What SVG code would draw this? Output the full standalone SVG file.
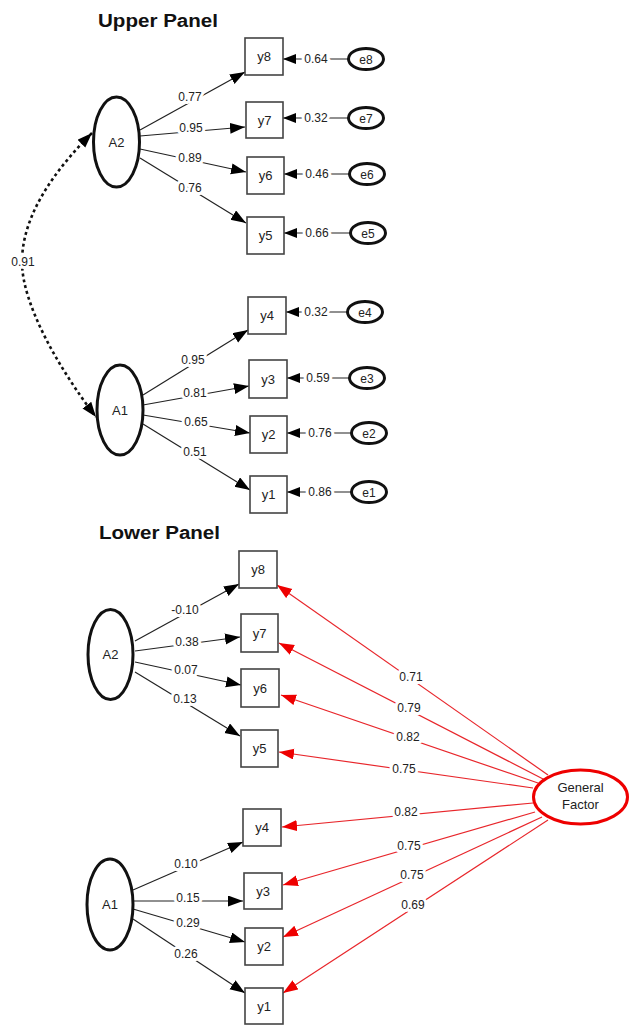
<svg xmlns="http://www.w3.org/2000/svg" width="629" height="1025" viewBox="0 0 629 1025">
  <style>
    text { font-family: "Liberation Sans", Arial, sans-serif; fill: #222; }
    .title { font-size: 18px; font-weight: bold; fill: #111; }
    .node { font-size: 13px; text-anchor: middle; }
    .lbl { font-size: 12px; text-anchor: middle; stroke: #fff; stroke-width: 6px; paint-order: stroke fill; stroke-linejoin: round; }
    .box { fill: #fff; stroke: #444; stroke-width: 1.6; }
    .lat { fill: #fff; stroke: #111; stroke-width: 3; }
    .err { fill: #fff; stroke: #111; stroke-width: 3; }
    .gf { fill: #fff; stroke: #e00; stroke-width: 3; }
    .path { stroke: #222; stroke-width: 1.2; fill: none; marker-end: url(#arr); }
    .epath { stroke: #222; stroke-width: 1.2; fill: none; marker-end: url(#arrS); }
    .rpath { stroke: #e8262b; stroke-width: 1.2; fill: none; marker-end: url(#arrR); }
    .cov { stroke: #111; stroke-width: 2.6; stroke-dasharray: 3 3; fill: none; marker-start: url(#arrC); marker-end: url(#arrC); }
  </style>
  <defs>
    <marker id="arr" markerUnits="userSpaceOnUse" markerWidth="16" markerHeight="12" refX="15" refY="5.5" orient="auto">
      <path d="M0,0 L15,5.5 L0,11 z" fill="#000"/>
    </marker>
    <marker id="arrS" markerUnits="userSpaceOnUse" markerWidth="14" markerHeight="11" refX="13" refY="5" orient="auto">
      <path d="M0,0 L13,5 L0,10 z" fill="#000"/>
    </marker>
    <marker id="arrR" markerUnits="userSpaceOnUse" markerWidth="16" markerHeight="12" refX="15" refY="5.5" orient="auto">
      <path d="M0,0 L15,5.5 L0,11 z" fill="#e00"/>
    </marker>
    <marker id="arrC" markerUnits="userSpaceOnUse" markerWidth="16" markerHeight="12" refX="15" refY="5.5" orient="auto-start-reverse">
      <path d="M0,0 L15,5.5 L0,11 z" fill="#000"/>
    </marker>
  </defs>

  <rect width="629" height="1025" fill="#fff"/>

  <text class="title" x="98" y="27" textLength="120" lengthAdjust="spacingAndGlyphs">Upper Panel</text>
  <text class="title" x="99" y="539" textLength="121" lengthAdjust="spacingAndGlyphs">Lower Panel</text>

  <!-- connectors -->
  <g id="connectors">
    <!-- upper panel: A2 loadings -->
    <line class="path" x1="140" y1="130" x2="245" y2="72"/>
    <line class="path" x1="140" y1="136" x2="245" y2="127"/>
    <line class="path" x1="140" y1="149" x2="246" y2="172"/>
    <line class="path" x1="140" y1="158" x2="246" y2="223"/>
    <!-- upper panel: A1 loadings -->
    <line class="path" x1="143" y1="395" x2="248" y2="330"/>
    <line class="path" x1="143" y1="405" x2="249" y2="386"/>
    <line class="path" x1="143" y1="415" x2="250" y2="433"/>
    <line class="path" x1="143" y1="424" x2="250" y2="490"/>
    <!-- residual paths -->
    <line class="epath" x1="349" y1="59" x2="283" y2="59"/>
    <line class="epath" x1="349" y1="118" x2="283" y2="118"/>
    <line class="epath" x1="350" y1="174" x2="284" y2="174"/>
    <line class="epath" x1="351" y1="233" x2="284" y2="233"/>
    <line class="epath" x1="348" y1="312" x2="286" y2="312"/>
    <line class="epath" x1="350" y1="378" x2="287" y2="378"/>
    <line class="epath" x1="352" y1="433" x2="287" y2="433"/>
    <line class="epath" x1="352" y1="492" x2="287" y2="492"/>
    <!-- factor correlation -->
    <path class="cov" d="M92 133 C55 170 22 215 22 262 C22 305 60 370 96 417"/>

    <!-- lower panel: A2 loadings -->
    <line class="path" x1="135" y1="641" x2="239" y2="584"/>
    <line class="path" x1="135" y1="651" x2="240" y2="637"/>
    <line class="path" x1="135" y1="662" x2="241" y2="685"/>
    <line class="path" x1="135" y1="672" x2="240" y2="736"/>
    <!-- lower panel: A1 loadings -->
    <line class="path" x1="133" y1="890" x2="243" y2="842"/>
    <line class="path" x1="133" y1="901" x2="243" y2="901"/>
    <line class="path" x1="133" y1="909" x2="245" y2="942"/>
    <line class="path" x1="133" y1="919" x2="245" y2="993"/>
    <!-- general factor loadings -->
    <line class="rpath" x1="548" y1="775" x2="277" y2="585"/>
    <line class="rpath" x1="545" y1="780" x2="279" y2="643"/>
    <line class="rpath" x1="538" y1="783" x2="281" y2="695"/>
    <line class="rpath" x1="533" y1="788" x2="279" y2="752"/>
    <line class="rpath" x1="533" y1="803" x2="282" y2="827"/>
    <line class="rpath" x1="535" y1="812" x2="283" y2="885"/>
    <line class="rpath" x1="542" y1="817" x2="283" y2="937"/>
    <line class="rpath" x1="548" y1="820" x2="283" y2="993"/>

    <!-- path labels -->
    <text class="lbl" x="23" y="266">0.91</text>
    <text class="lbl" x="190" y="101">0.77</text>
    <text class="lbl" x="191" y="132">0.95</text>
    <text class="lbl" x="190" y="162">0.89</text>
    <text class="lbl" x="190" y="192">0.76</text>
    <text class="lbl" x="193" y="364">0.95</text>
    <text class="lbl" x="195" y="397">0.81</text>
    <text class="lbl" x="196" y="426">0.65</text>
    <text class="lbl" x="195" y="456">0.51</text>

    <text class="lbl" x="316" y="63">0.64</text>
    <text class="lbl" x="316" y="122">0.32</text>
    <text class="lbl" x="317" y="178">0.46</text>
    <text class="lbl" x="317" y="237">0.66</text>
    <text class="lbl" x="316" y="316">0.32</text>
    <text class="lbl" x="318" y="382">0.59</text>
    <text class="lbl" x="320" y="437">0.76</text>
    <text class="lbl" x="320" y="496">0.86</text>

    <text class="lbl" x="185" y="614">-0.10</text>
    <text class="lbl" x="187" y="646">0.38</text>
    <text class="lbl" x="186" y="674">0.07</text>
    <text class="lbl" x="185" y="703">0.13</text>
    <text class="lbl" x="186" y="868">0.10</text>
    <text class="lbl" x="188" y="902">0.15</text>
    <text class="lbl" x="188" y="927">0.29</text>
    <text class="lbl" x="186" y="958">0.26</text>

    <text class="lbl" x="411" y="681">0.71</text>
    <text class="lbl" x="409" y="712">0.79</text>
    <text class="lbl" x="408" y="741">0.82</text>
    <text class="lbl" x="404" y="773">0.75</text>
    <text class="lbl" x="406" y="816">0.82</text>
    <text class="lbl" x="409" y="850">0.75</text>
    <text class="lbl" x="412" y="879">0.75</text>
    <text class="lbl" x="413" y="909">0.69</text>
  </g>

  <!-- upper panel nodes -->
  <g id="uA2"><ellipse class="lat" cx="116.5" cy="142" rx="23" ry="45"/><text class="node" x="116.5" y="147">A2</text></g>
  <g id="uA1"><ellipse class="lat" cx="120" cy="410" rx="23" ry="45"/><text class="node" x="120" y="415">A1</text></g>

  <g id="uy8"><rect class="box" x="245" y="38" width="38" height="37"/><text class="node" x="264" y="61">y8</text></g>
  <g id="uy7"><rect class="box" x="246" y="102" width="37" height="36"/><text class="node" x="264.5" y="125">y7</text></g>
  <g id="uy6"><rect class="box" x="247" y="157" width="37" height="37"/><text class="node" x="265.5" y="180">y6</text></g>
  <g id="uy5"><rect class="box" x="247" y="217" width="37" height="37"/><text class="node" x="265.5" y="240">y5</text></g>
  <g id="uy4"><rect class="box" x="248" y="297" width="38" height="37"/><text class="node" x="267" y="320">y4</text></g>
  <g id="uy3"><rect class="box" x="249" y="360" width="38" height="38"/><text class="node" x="268" y="384">y3</text></g>
  <g id="uy2"><rect class="box" x="250" y="416" width="37" height="37"/><text class="node" x="268.5" y="439">y2</text></g>
  <g id="uy1"><rect class="box" x="250" y="476" width="37" height="37"/><text class="node" x="268.5" y="499">y1</text></g>

  <g id="ue8"><ellipse class="err" cx="366" cy="59" rx="17.5" ry="10.5"/><text class="node" x="366" y="64" style="font-size:12px">e8</text></g>
  <g id="ue7"><ellipse class="err" cx="366" cy="118" rx="17.5" ry="10.5"/><text class="node" x="366" y="123" style="font-size:12px">e7</text></g>
  <g id="ue6"><ellipse class="err" cx="367" cy="174" rx="17.5" ry="10.5"/><text class="node" x="367" y="179" style="font-size:12px">e6</text></g>
  <g id="ue5"><ellipse class="err" cx="368" cy="233" rx="17.5" ry="10.5"/><text class="node" x="368" y="238" style="font-size:12px">e5</text></g>
  <g id="ue4"><ellipse class="err" cx="365" cy="312" rx="17.5" ry="10.5"/><text class="node" x="365" y="317" style="font-size:12px">e4</text></g>
  <g id="ue3"><ellipse class="err" cx="367" cy="378" rx="17.5" ry="10.5"/><text class="node" x="367" y="383" style="font-size:12px">e3</text></g>
  <g id="ue2"><ellipse class="err" cx="369" cy="433" rx="17.5" ry="10.5"/><text class="node" x="369" y="438" style="font-size:12px">e2</text></g>
  <g id="ue1"><ellipse class="err" cx="369" cy="492" rx="17.5" ry="10.5"/><text class="node" x="369" y="497" style="font-size:12px">e1</text></g>

  <!-- lower panel nodes -->
  <g id="lA2"><ellipse class="lat" cx="110.5" cy="654.5" rx="22.5" ry="45"/><text class="node" x="110.5" y="659">A2</text></g>
  <g id="lA1"><ellipse class="lat" cx="110" cy="904.5" rx="23" ry="45.5"/><text class="node" x="110" y="909">A1</text></g>

  <g id="ly8"><rect class="box" x="239" y="551" width="38" height="37"/><text class="node" x="258" y="574">y8</text></g>
  <g id="ly7"><rect class="box" x="241" y="614" width="37" height="38"/><text class="node" x="259.5" y="638">y7</text></g>
  <g id="ly6"><rect class="box" x="241" y="669" width="38" height="38"/><text class="node" x="260" y="693">y6</text></g>
  <g id="ly5"><rect class="box" x="241" y="730" width="37" height="37"/><text class="node" x="259.5" y="753">y5</text></g>
  <g id="ly4"><rect class="box" x="243" y="809" width="38" height="37"/><text class="node" x="262" y="832">y4</text></g>
  <g id="ly3"><rect class="box" x="244" y="873" width="38" height="36"/><text class="node" x="263" y="896">y3</text></g>
  <g id="ly2"><rect class="box" x="245" y="928" width="38" height="37"/><text class="node" x="264" y="951">y2</text></g>
  <g id="ly1"><rect class="box" x="245" y="988" width="38" height="36"/><text class="node" x="264" y="1011">y1</text></g>

  <g id="general-factor">
    <ellipse class="gf" cx="580.5" cy="797" rx="47" ry="27"/>
    <text class="node" x="580.5" y="792" style="font-size:13px">General</text>
    <text class="node" x="580.5" y="809" style="font-size:13px">Factor</text>
  </g>
</svg>
